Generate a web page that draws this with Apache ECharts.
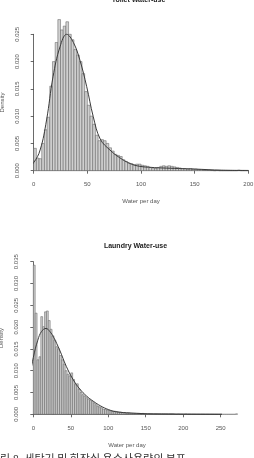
<!DOCTYPE html>
<html>
<head>
<meta charset="utf-8">
<script src="https://cdn.jsdelivr.net/npm/echarts@6/dist/echarts.min.js"></script>
<style>
  html, body { margin: 0; padding: 0; background: #fff; }
  #chart { width: 254px; height: 458px; }
</style>
</head>
<body>
<div id="chart"></div>
<script>
// Histograms of daily water use (density), bin width 2.5, plus density curves.
const BIN = 2.5;

// Toilet: bins from 0 to 200
const toiletDensity = [
  0.0041, 0.0023, 0.0022, 0.0050, 0.0075, 0.0098, 0.0155, 0.0200, 0.0235, 0.0277,
  0.0258, 0.0265, 0.0273, 0.0250, 0.0240, 0.0222, 0.0212, 0.0200, 0.0178, 0.0145,
  0.0120, 0.0100, 0.0085, 0.0065, 0.0055, 0.0057, 0.0055, 0.0050, 0.0042, 0.0036,
  0.0030, 0.0028, 0.0026, 0.0020, 0.0017, 0.0014, 0.0013, 0.0011, 0.0012, 0.0012,
  0.0010, 0.0009, 0.0008, 0.0006, 0.0005, 0.0004, 0.0006, 0.0008, 0.0009, 0.0008,
  0.0009, 0.0008, 0.0007, 0.0006, 0.0005, 0.0004, 0.0004, 0.0003, 0.0004, 0.0003,
  0.0003, 0.0002, 0.0002, 0.0001, 0.0001, 0.0001, 0.00005, 0, 0.00005, 0,
  0, 0, 0, 0, 0, 0, 0.0001, 0, 0, 0
];
const toiletCurveX = [-8, 0, 6, 12, 18, 24.5, 30.7, 37, 43, 49.4, 55.5, 62, 71, 80, 90, 99, 110, 120, 135, 150, 175, 200];
const toiletCurveY = [0, 0.0015, 0.0038, 0.0093, 0.0172, 0.0227, 0.0250, 0.0235, 0.0203, 0.0154, 0.0099, 0.0058, 0.0038, 0.0024, 0.0013, 0.0008, 0.0006, 0.0005, 0.0004, 0.0003, 0.0001, 0.00005];

// Laundry: bins from 0 to 272.5
const laundryDensity = [
  0.0342, 0.0232, 0.0125, 0.0132, 0.0224, 0.0201, 0.0235, 0.0237, 0.0215, 0.0195,
  0.0180, 0.0170, 0.0155, 0.0150, 0.0135, 0.0125, 0.0115, 0.0100, 0.0092, 0.0088,
  0.0095, 0.0080, 0.0068, 0.0070, 0.0058, 0.0050, 0.0045, 0.0042, 0.0038, 0.0035,
  0.0032, 0.0029, 0.0026, 0.0022, 0.0019, 0.0017, 0.0015, 0.0012, 0.0011, 0.0010,
  0.0009, 0.0008, 0.0007, 0.0007, 0.0006, 0.0005, 0.0005, 0.0004, 0.0004, 0.0003,
  0.0003, 0.0003, 0.0002, 0.0002, 0.0002, 0.0002, 0.0002, 0.0001, 0.0002, 0.0001,
  0.0001, 0.0001, 0.0001, 0.0001, 0.0001, 0.0001, 0.0001, 0.0001, 0.0001, 0.0001,
  0.0001, 0.0001, 0.0001, 0.0001, 0.0001, 0.00005, 0, 0.00005, 0, 0,
  0, 0.00005, 0, 0, 0, 0, 0, 0, 0, 0,
  0, 0, 0, 0, 0, 0, 0, 0, 0, 0,
  0, 0, 0, 0, 0, 0, 0, 0, 0.0001
];
const laundryCurveX = [-12, 0, 6, 11, 17, 22, 27, 35, 44, 53, 62, 71, 80, 90, 100, 110, 130, 160, 200, 272];
const laundryCurveY = [0.0020, 0.0130, 0.0170, 0.0190, 0.0197, 0.0190, 0.0177, 0.0148, 0.0110, 0.0080, 0.0058, 0.0042, 0.0030, 0.0019, 0.0011, 0.0006, 0.0003, 0.0001, 0.00005, 0];

const FONT = 'Liberation Sans, Arial, sans-serif';
const INK = '#444';

function toBins(dens) {
  return dens.map((d, i) => [i * BIN, (i + 1) * BIN, d]);
}
function toPairs(xs, ys) {
  return xs.map((x, i) => [x, ys[i]]);
}

function renderBar(params, api) {
  const p0 = api.coord([api.value(0), api.value(2)]);
  const p1 = api.coord([api.value(1), 0]);
  return {
    type: 'rect',
    shape: { x: p0[0], y: p0[1], width: p1[0] - p0[0], height: p1[1] - p0[1] },
    style: { fill: '#d0d0d0', stroke: '#5a5a5a', lineWidth: 0.5 }
  };
}

const axisCommon = {
  axisLine: { lineStyle: { color: INK, width: 0.8 } },
  axisTick: { length: 3, lineStyle: { color: INK, width: 0.8 } },
  splitLine: { show: false },
  axisLabel: { fontSize: 6, color: '#555', fontFamily: FONT },
  nameTextStyle: { fontSize: 6, color: '#555', fontFamily: FONT }
};

function xAxisFor(grid, max) {
  return Object.assign({}, axisCommon, {
    gridIndex: grid, type: 'value', min: 0, max: max, interval: 50, offset: 6,
    name: 'Water per day', nameLocation: 'middle', nameGap: 22,
    axisLabel: Object.assign({}, axisCommon.axisLabel, { margin: 5 })
  });
}
function yAxisFor(grid, max, offset) {
  return Object.assign({}, axisCommon, {
    gridIndex: grid, type: 'value', min: 0, max: max, interval: 0.005, offset: offset,
    name: 'Density', nameLocation: 'middle', nameGap: 20, nameRotate: 90,
    axisLabel: Object.assign({}, axisCommon.axisLabel, {
      rotate: 90, margin: 5, formatter: v => v.toFixed(3)
    })
  });
}

const chart = echarts.init(document.getElementById('chart'));

chart.setOption({
  animation: false,
  backgroundColor: '#fff',
  grid: [
    { left: 33.7, right: 5.7, top: 34.3, bottom: 287.3, outerBoundsMode: 'none', containLabel: false },
    { left: 33.3, right: 33.3, top: 261.7, bottom: 43.7, outerBoundsMode: 'none', containLabel: false }
  ],
  xAxis: [xAxisFor(0, 200), xAxisFor(1, 250)],
  yAxis: [yAxisFor(0, 0.025, 8.7), yAxisFor(1, 0.035, 9)],
  series: [
    {
      type: 'custom', xAxisIndex: 0, yAxisIndex: 0, clip: false,
      renderItem: renderBar, encode: { x: [0, 1], y: 2 },
      data: toBins(toiletDensity)
    },
    {
      type: 'line', xAxisIndex: 0, yAxisIndex: 0, clip: false, smooth: 0.4,
      symbol: 'none', lineStyle: { color: '#3a3a3a', width: 1 },
      data: toPairs(toiletCurveX, toiletCurveY)
    },
    {
      type: 'custom', xAxisIndex: 1, yAxisIndex: 1, clip: false,
      renderItem: renderBar, encode: { x: [0, 1], y: 2 },
      data: toBins(laundryDensity)
    },
    {
      type: 'line', xAxisIndex: 1, yAxisIndex: 1, clip: false, smooth: 0.4,
      symbol: 'none', lineStyle: { color: '#3a3a3a', width: 1 },
      data: toPairs(laundryCurveX, laundryCurveY)
    }
  ],
  graphic: [
    {
      type: 'text', x: 138.5, y: 0,
      style: { text: 'Toilet Water-use', fontSize: 7, fontWeight: 'bold', fill: '#222', fontFamily: FONT,
               align: 'center', verticalAlign: 'middle' }
    },
    {
      type: 'text', x: 135.5, y: 246,
      style: { text: 'Laundry Water-use', fontSize: 7, fontWeight: 'bold', fill: '#222', fontFamily: FONT,
               align: 'center', verticalAlign: 'middle' }
    },
    {
      type: 'text', x: -10, y: 453,
      style: { text: '그림 8. 세탁기 및 화장실 용수사용량의 분포', fontSize: 11, fill: '#333',
               fontFamily: 'Noto Sans CJK KR, sans-serif', verticalAlign: 'top' }
    }
  ]
});
</script>
</body>
</html>
